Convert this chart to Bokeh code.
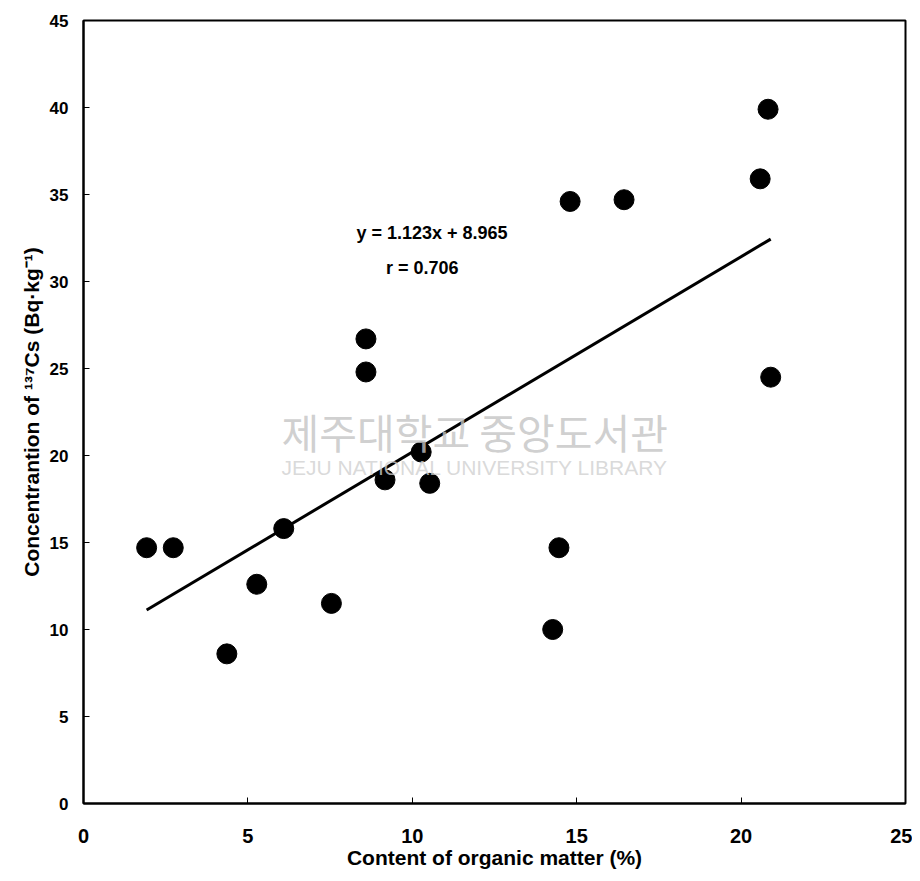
from bokeh.plotting import figure
from bokeh.models import Label, FixedTicker, Range1d
from bokeh.embed import file_html
from bokeh.resources import INLINE

# Data
organic_matter = [1.92, 2.73, 4.36, 5.27, 6.09, 7.54, 8.59, 8.59, 9.17, 10.27,
                  10.53, 14.27, 14.46, 14.8, 16.44, 20.58, 20.82, 20.9]
cs137 = [14.7, 14.7, 8.6, 12.6, 15.8, 11.5, 26.7, 24.8, 18.6, 20.2,
         18.4, 10.0, 14.7, 34.6, 34.7, 35.9, 39.9, 24.5]
slope = 1.123
intercept = 8.965
r_value = 0.706
x_ticks = [0, 5, 10, 15, 20, 25]
y_ticks = [0, 5, 10, 15, 20, 25, 30, 35, 40, 45]

p = figure(width=912, height=873, output_backend="svg", toolbar_location=None,
           x_range=Range1d(0, 25), y_range=Range1d(0, 45),
           min_border_left=83, min_border_right=7, min_border_top=20, min_border_bottom=70)
p.grid.visible = False
p.outline_line_color = "black"
p.outline_line_width = 2
p.background_fill_color = "white"
p.border_fill_color = "white"

for ax in (p.xaxis[0], p.yaxis[0]):
    ax.axis_line_width = 2
    ax.axis_line_color = "black"
    ax.major_tick_in = 6
    ax.major_tick_out = 0
    ax.minor_tick_in = 0
    ax.minor_tick_out = 0
    ax.major_tick_line_color = "black"
    ax.major_label_text_font = "Liberation Sans"
    ax.major_label_text_font_style = "bold"
    ax.major_label_text_color = "black"
    ax.axis_label_text_font = "Liberation Sans"
    ax.axis_label_text_font_style = "bold"
    ax.axis_label_text_color = "black"

p.xaxis.ticker = FixedTicker(ticks=x_ticks)
p.yaxis.ticker = FixedTicker(ticks=y_ticks)
p.xaxis.major_label_text_font_size = "20px"
p.xaxis.major_label_standoff = 25
p.xaxis.axis_label = "Content of organic matter (%)"
p.xaxis.axis_label_text_font_size = "21px"
p.xaxis.axis_label_standoff = 0

p.yaxis.major_label_text_font_size = "17px"
p.yaxis.major_label_standoff = 15
p.yaxis.axis_label = "Concentrantion of \u00b9\u00b3\u2077Cs (Bq\u00b7kg\u207b\u00b9)"
p.yaxis.axis_label_text_font_size = "21px"
p.yaxis.axis_label_standoff = 4

# Watermark text (faint)
p.add_layout(Label(x=11.9, y=21.4, text="제주대학교 중앙도서관", text_align="center",
                   text_baseline="middle", text_font="Noto Sans CJK KR",
                   text_font_size="41px", text_color="#c4c4c4", text_alpha=0.8))
p.add_layout(Label(x=11.9, y=19.3, text="JEJU NATIONAL UNIVERSITY LIBRARY", text_align="center",
                   text_baseline="middle", text_font="Liberation Sans",
                   text_font_size="21px", text_color="#d0d0d0", text_alpha=0.8))

# Regression line from the fit shown on the chart
x0, x1 = min(organic_matter), max(organic_matter)
p.line([x0, x1], [slope * x0 + intercept, slope * x1 + intercept],
       line_color="black", line_width=3)

p.scatter(organic_matter, cs137, size=20, marker="circle",
          fill_color="black", line_color="black")

p.add_layout(Label(x=10.6, y=32.8, text=f"y = {slope}x + {intercept}", text_align="center",
                   text_baseline="middle", text_font="Liberation Sans",
                   text_font_style="bold", text_font_size="18px", text_color="black"))
p.add_layout(Label(x=10.3, y=30.8, text=f"r = {r_value}", text_align="center",
                   text_baseline="middle", text_font="Liberation Sans",
                   text_font_style="bold", text_font_size="18px", text_color="black"))

open("out.html", "w").write(file_html(p, INLINE))
